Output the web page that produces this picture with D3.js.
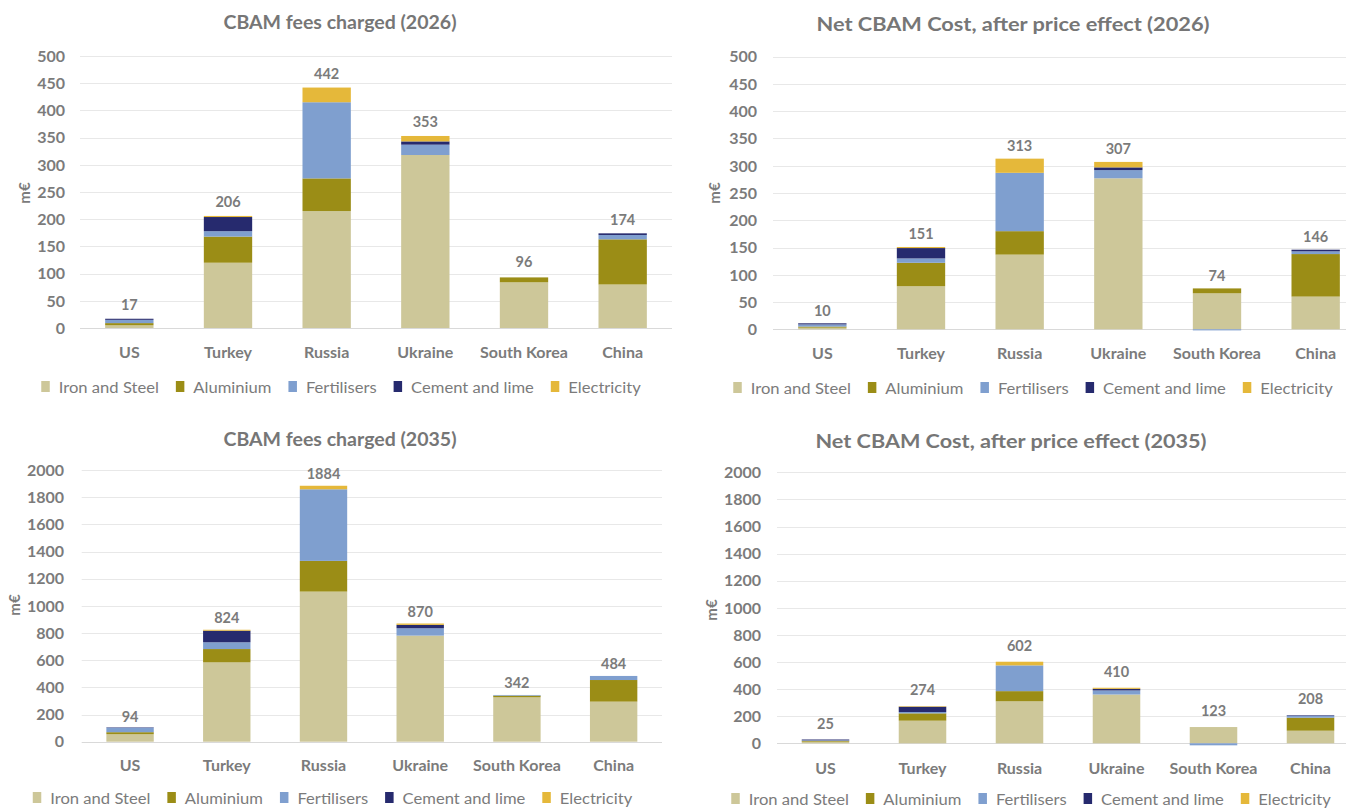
<!DOCTYPE html>
<html>
<head>
<meta charset="utf-8">
<script src="https://cdn.jsdelivr.net/npm/d3@7"></script>
<style>
  html, body { margin: 0; padding: 0; background: #ffffff; }
  svg { display: block; font-family: Lato, "Open Sans", sans-serif; }
</style>
</head>
<body>
<svg id="chart" width="1346" height="810"></svg>
<script>
// ---------- DATA ----------
const categories = ["US", "Turkey", "Russia", "Ukraine", "South Korea", "China"];
const sectors = ["Iron and Steel", "Aluminium", "Fertilisers", "Cement and lime", "Electricity"];
const sectorColors = ["#cdc799", "#9b8d16", "#7f9fcf", "#262a6e", "#e5b83a"];

// CBAM fees charged (2026), m€
const fees2026Iron   = [5, 120, 215, 318, 84, 80];
const fees2026Alu    = [4, 48, 60, 0, 9, 83];
const fees2026Fert   = [6, 10, 140, 19, 0, 8];
const fees2026Cement = [2, 26, 0, 6, 0, 3];
const fees2026Elec   = [0, 2, 27, 10, 0, 0];
const fees2026Total  = [17, 206, 442, 353, 96, 174];

// Net CBAM cost, after price effect (2026), m€
const net2026Iron   = [3, 79, 137, 277, 66, 60];
const net2026Alu    = [2, 43, 43, 0, 9, 78];
const net2026Fert   = [4, 8, 107, 15, -2, 5];
const net2026Cement = [2, 19, 0, 5, 0, 3];
const net2026Elec   = [0, 2, 26, 10, 0, 0];
const net2026Total  = [10, 151, 313, 307, 74, 146];

// CBAM fees charged (2035), m€
const fees2035Iron   = [55, 584, 1105, 781, 327, 295];
const fees2035Alu    = [15, 98, 226, 0, 12, 159];
const fees2035Fert   = [33, 50, 527, 54, 5, 30];
const fees2035Cement = [3, 85, 0, 25, 0, 0];
const fees2035Elec   = [0, 7, 26, 10, 0, 0];
const fees2035Total  = [94, 824, 1884, 870, 342, 484];

// Net CBAM cost, after price effect (2035), m€
const net2035Iron   = [12, 167, 310, 360, 120, 93];
const net2035Alu    = [6, 54, 75, 0, 0, 96];
const net2035Fert   = [4, 10, 190, 30, -15, 15];
const net2035Cement = [6, 39, 0, 12, 0, 4];
const net2035Elec   = [0, 4, 27, 8, 0, 0];
const net2035Total  = [25, 274, 602, 410, 123, 208];

const ticks2026 = [0, 50, 100, 150, 200, 250, 300, 350, 400, 450, 500];
const ticks2035 = [0, 200, 400, 600, 800, 1000, 1200, 1400, 1600, 1800, 2000];

const axisTitle = "m€";

// ---------- LAYOUT ----------
const panels = [
  { title: "CBAM fees charged (2026)", series: [fees2026Iron, fees2026Alu, fees2026Fert, fees2026Cement, fees2026Elec], totals: fees2026Total, ticks: ticks2026,
    titleX: 340, titleY: 22, titleW: 233, x0: 80, x1: 672, yZero: 328, yTop: 56, tickX: 65, axX: 25, axY: 193, catY: 352, legY: 387, legX: 341, labOff: 14 },
  { title: "Net CBAM Cost, after price effect (2026)", series: [net2026Iron, net2026Alu, net2026Fert, net2026Cement, net2026Elec], totals: net2026Total, ticks: ticks2026,
    titleX: 1013, titleY: 24, titleW: 393, x0: 773, x1: 1365, yZero: 329.3, yTop: 56.7, tickX: 757, axX: 715, axY: 193, catY: 353, legY: 388, legX: 1033, labOff: 13 },
  { title: "CBAM fees charged (2035)", series: [fees2035Iron, fees2035Alu, fees2035Fert, fees2035Cement, fees2035Elec], totals: fees2035Total, ticks: ticks2035,
    titleX: 340, titleY: 439, titleW: 233, x0: 81.7, x1: 662, yZero: 741.7, yTop: 470, tickX: 64, axX: 15, axY: 605, catY: 765, legY: 798, legX: 332.5, labOff: 12 },
  { title: "Net CBAM Cost, after price effect (2035)", series: [net2035Iron, net2035Alu, net2035Fert, net2035Cement, net2035Elec], totals: net2035Total, ticks: ticks2035,
    titleX: 1011, titleY: 441, titleW: 391, x0: 777, x1: 1359, yZero: 743.3, yTop: 472.3, tickX: 761, axX: 712, axY: 610, catY: 768, legY: 799, legX: 1031, labOff: 16 }
];

const svg = d3.select("#chart");
const textGrey = "#7b7b7b";
const legScale = 1.07;

panels.forEach(p => {
  const g = svg.append("g");
  const maxV = p.ticks[p.ticks.length - 1];
  const y = d3.scaleLinear().domain([0, maxV]).range([p.yZero, p.yTop]);
  const x = d3.scaleBand().domain(categories).range([p.x0, p.x1]).paddingInner(0.51).paddingOuter(0.255);

  // gridlines
  g.append("g").selectAll("line").data(p.ticks).join("line")
    .attr("x1", p.x0).attr("x2", p.x1)
    .attr("y1", d => Math.round(y(d)) + 0.5).attr("y2", d => Math.round(y(d)) + 0.5)
    .attr("stroke", d => d === 0 ? "#d9d9d9" : "#e8e8e8").attr("stroke-width", 1);

  // y tick labels
  g.append("g").selectAll("text").data(p.ticks).join("text")
    .attr("x", p.tickX).attr("y", d => y(d)).attr("dy", "0.36em")
    .attr("text-anchor", "end").attr("font-size", 16).attr("font-weight", 700).attr("fill", textGrey)
    .text(d => d);

  // axis title
  g.append("text")
    .attr("transform", `translate(${p.axX},${p.axY}) rotate(-90)`)
    .attr("text-anchor", "middle").attr("dy", "0.36em")
    .attr("font-size", 15).attr("font-weight", 700).attr("fill", textGrey)
    .text(axisTitle);

  // stacked bars
  const rows = categories.map((c, i) => {
    const r = { cat: c };
    sectors.forEach((s, k) => r[s] = p.series[k][i]);
    return r;
  });
  const stack = d3.stack().keys(sectors).offset(d3.stackOffsetDiverging)(rows);
  g.append("g").selectAll("g").data(stack).join("g")
    .attr("fill", (d, k) => sectorColors[k])
    .selectAll("rect").data(d => d).join("rect")
    .attr("x", d => x(d.data.cat))
    .attr("width", x.bandwidth())
    .attr("y", d => y(Math.max(d[0], d[1])))
    .attr("height", d => Math.abs(y(d[0]) - y(d[1])));

  // total labels
  g.append("g").selectAll("text").data(categories).join("text")
    .attr("x", d => x(d) + x.bandwidth() / 2)
    .attr("y", (d, i) => y(p.totals[i]) - p.labOff).attr("dy", "0.36em")
    .attr("text-anchor", "middle").attr("font-size", 14.5).attr("font-weight", 700).attr("fill", textGrey)
    .text((d, i) => p.totals[i]);

  // category labels
  g.append("g").selectAll("text").data(categories).join("text")
    .attr("x", d => x(d) + x.bandwidth() / 2)
    .attr("y", p.catY).attr("dy", "0.36em")
    .attr("text-anchor", "middle").attr("font-size", 16).attr("font-weight", 700).attr("fill", textGrey)
    .text(d => d);

  // title
  g.append("text")
    .attr("x", p.titleX - p.titleW / 2).attr("y", p.titleY).attr("dy", "0.36em")
    .attr("text-anchor", "start").attr("font-size", 19).attr("font-weight", 700).attr("fill", "#767676")
    .attr("textLength", p.titleW).attr("lengthAdjust", "spacingAndGlyphs")
    .text(p.title);

  // legend
  const leg = g.append("g");
  let cx = 0;
  sectors.forEach((s, k) => {
    const it = leg.append("g");
    it.append("rect").attr("x", 0).attr("y", -6).attr("width", 8.5).attr("height", 11).attr("fill", sectorColors[k]);
    const t = it.append("text").attr("transform", `translate(17.5,0) scale(${legScale},1)`).attr("dy", "0.36em")
      .attr("font-size", 15.5).attr("fill", textGrey).text(s);
    const w = 17.5 + t.node().getComputedTextLength() * legScale;
    it.attr("transform", `translate(${cx},0)`);
    cx += w + 17;
  });
  const totalW = cx - 17;
  leg.attr("transform", `translate(${p.legX - totalW / 2},${p.legY})`);
});
</script>
</body>
</html>
